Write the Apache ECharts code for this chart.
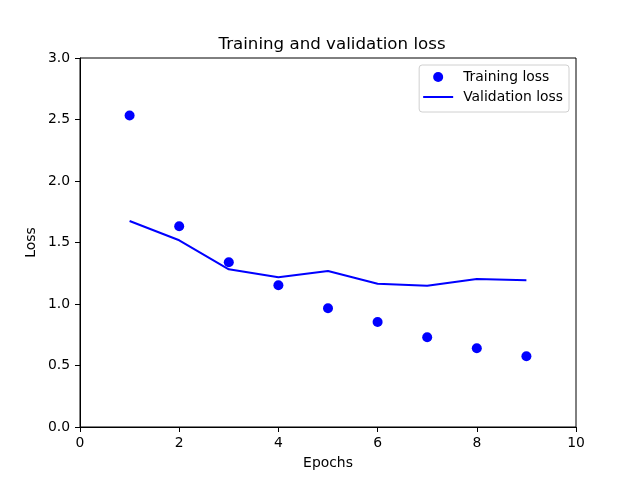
<!DOCTYPE html>
<html>
<head>
<meta charset="utf-8">
<script src="https://cdn.jsdelivr.net/npm/echarts@6/dist/echarts.min.js"></script>
<style>html,body{margin:0;padding:0;background:#fff}#c{width:640px;height:480px}</style>
</head>
<body>
<div id="c"></div>
<script>
const epochs = [1, 2, 3, 4, 5, 6, 7, 8, 9];
const trainingLoss = [2.532, 1.632, 1.339, 1.152, 0.965, 0.854, 0.729, 0.640, 0.575];
const validationLoss = [1.675, 1.518, 1.282, 1.217, 1.268, 1.165, 1.149, 1.203, 1.193];
const xTicks = [0, 2, 4, 6, 8, 10];
const yTicks = [0, 0.5, 1.0, 1.5, 2.0, 2.5, 3.0];

const font = 'DejaVu Sans';
const fs = 13.9;
const chart = echarts.init(document.getElementById('c'), null, {renderer: 'canvas'});
chart.setOption({
  animation: false,
  backgroundColor: '#fff',
  title: {
    text: 'Training and validation loss',
    left: 327, top: 31, textAlign: 'center',
    textStyle: {fontFamily: font, fontSize: 16.67, fontWeight: 'normal', color: '#000'}
  },
  legend: {
    orient: 'vertical',
    right: 71, top: 65,
    padding: [5, 6, 8, 4],
    itemGap: 6,
    itemWidth: 30, itemHeight: 14,
    backgroundColor: '#fff',
    borderColor: '#d0d0d0', borderWidth: 1, borderRadius: 3,
    textStyle: {fontFamily: font, fontSize: fs, color: '#000', padding: [0, 0, 0, 5]},
    data: [
      {name: 'Training loss', icon: 'path://M0,0 M30,14 M20,7 A5,5 0 1,1 10,7 A5,5 0 1,1 20,7 Z', itemStyle: {color: '#0000ff'}},
      {name: 'Validation loss', icon: 'path://M0,0 M30,14 M0,6 L30,6 L30,8 L0,8 Z', itemStyle: {color: '#0000ff'}}
    ]
  },
  grid: {left: 80, right: 64, top: 58, bottom: 53, show: true, borderColor: '#000', borderWidth: 1, backgroundColor: 'transparent'},
  xAxis: {
    type: 'value', min: 0, max: 10, interval: 2,
    name: 'Epochs', nameLocation: 'middle', nameGap: 29, nameMoveOverlap: false,
    nameTextStyle: {fontFamily: font, fontSize: fs, color: '#000'},
    axisLine: {show: true, lineStyle: {color: '#000', width: 1}},
    axisTick: {show: true, inside: false, length: 5, lineStyle: {color: '#000'}},
    axisLabel: {fontFamily: font, fontSize: fs, color: '#000', margin: 9},
    splitLine: {show: false}
  },
  yAxis: {
    type: 'value', min: 0, max: 3, interval: 0.5,
    name: 'Loss', nameLocation: 'middle', nameGap: 42, nameMoveOverlap: false,
    nameTextStyle: {fontFamily: font, fontSize: fs, color: '#000'},
    axisLine: {show: true, lineStyle: {color: '#000', width: 1}},
    axisTick: {show: true, inside: false, length: 5, lineStyle: {color: '#000'}},
    axisLabel: {fontFamily: font, fontSize: fs, color: '#000', margin: 10, formatter: v => v.toFixed(1)},
    splitLine: {show: false}
  },
  series: [
    {
      name: 'Training loss', type: 'scatter',
      data: epochs.map((e, i) => [e, trainingLoss[i]]),
      symbol: 'circle', symbolSize: 10,
      itemStyle: {color: '#0000ff', opacity: 1}
    },
    {
      name: 'Validation loss', type: 'line',
      data: epochs.map((e, i) => [e, validationLoss[i]]),
      showSymbol: false, symbol: 'none',
      lineStyle: {color: '#0000ff', width: 2},
      itemStyle: {color: '#0000ff'}
    }
  ]
});
</script>
</body>
</html>
